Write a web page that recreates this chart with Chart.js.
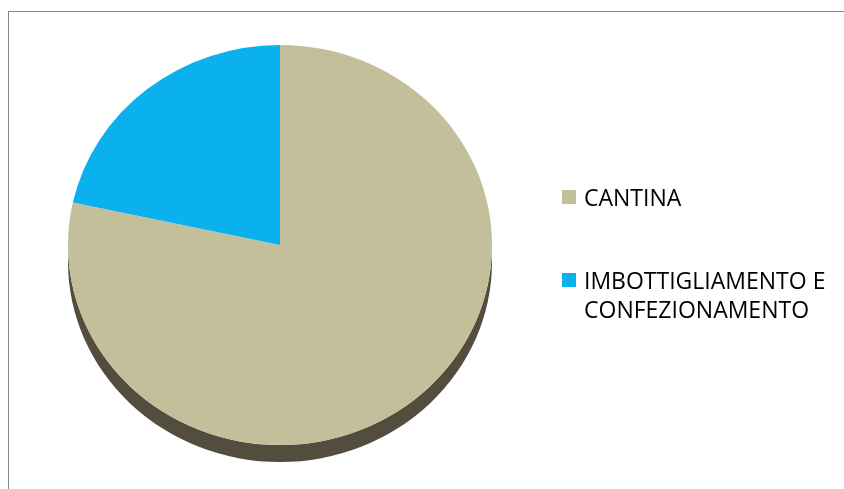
<!DOCTYPE html>
<html><head><meta charset="utf-8">
<script src="https://cdn.jsdelivr.net/npm/chart.js@4.4.0/dist/chart.umd.min.js"></script>
<style>html,body{margin:0;padding:0;background:#fff;}#wrap{width:844px;height:489px;position:relative;}</style>
</head><body><div id="wrap"><canvas id="c" width="844" height="489"></canvas></div>
<script>
const categories = ['CANTINA', 'IMBOTTIGLIAMENTO E CONFEZIONAMENTO'];
const legendLines = [['CANTINA'], ['IMBOTTIGLIAMENTO E', 'CONFEZIONAMENTO']];
const values = [78.4, 21.6];
const colors = ['#C4BF9B', '#0BB1EF'];

const FONT = '23px "Open Sans", sans-serif';
const tilt = 200 / 212;
const depth = 17;

const borderPlugin = {
  id: 'frame',
  beforeDraw(chart) {
    const ctx = chart.ctx;
    ctx.save();
    ctx.fillStyle = '#fff';
    ctx.fillRect(0, 0, chart.width, chart.height);
    ctx.strokeStyle = '#888888';
    ctx.lineWidth = 1;
    ctx.strokeRect(8.5, 11.5, 1000, 1000);
    ctx.restore();
  }
};

const pie3d = {
  id: 'pie3d',
  beforeDatasetsDraw(chart) {
    const ctx = chart.ctx;
    const arc = chart.getDatasetMeta(0).data[0];
    const cx = arc.x, cy = arc.y, r = arc.outerRadius, ry = r * tilt;
    ctx.save();
    ctx.fillStyle = '#524D3D';
    ctx.beginPath();
    ctx.ellipse(cx, cy + depth, r, ry, 0, 0, Math.PI, false);
    ctx.lineTo(cx - r, cy);
    ctx.ellipse(cx, cy, r, ry, 0, Math.PI, 0, true);
    ctx.closePath();
    ctx.fill();
    ctx.translate(cx, cy);
    ctx.scale(1, tilt);
    ctx.translate(-cx, -cy);
  },
  afterDatasetsDraw(chart) {
    chart.ctx.restore();
  }
};

const legendPlugin = {
  id: 'sideLegend',
  afterDraw(chart) {
    const ctx = chart.ctx;
    const ds = chart.data.datasets[0];
    const tops = [190, 273];
    ctx.save();
    ctx.font = FONT;
    ctx.textBaseline = 'alphabetic';
    legendLines.forEach((lines, i) => {
      ctx.fillStyle = ds.backgroundColor[i];
      ctx.fillRect(562, tops[i], 14, 14);
      ctx.fillStyle = '#000';
      lines.forEach((t, j) => {
        ctx.fillText(t, 584, tops[i] + 16 + j * 29);
      });
    });
    ctx.restore();
  }
};

new Chart(document.getElementById('c'), {
  type: 'pie',
  data: {
    labels: categories,
    datasets: [{
      data: values,
      backgroundColor: colors,
      borderWidth: 0,
      clip: false
    }]
  },
  options: {
    responsive: false,
    devicePixelRatio: 1,
    animation: false,
    events: [],
    layout: { padding: { left: 68, right: 352, top: 33, bottom: 32 } },
    plugins: { legend: { display: false }, tooltip: { enabled: false }, title: { display: false } }
  },
  plugins: [borderPlugin, pie3d, legendPlugin]
});
</script>
</body></html>
